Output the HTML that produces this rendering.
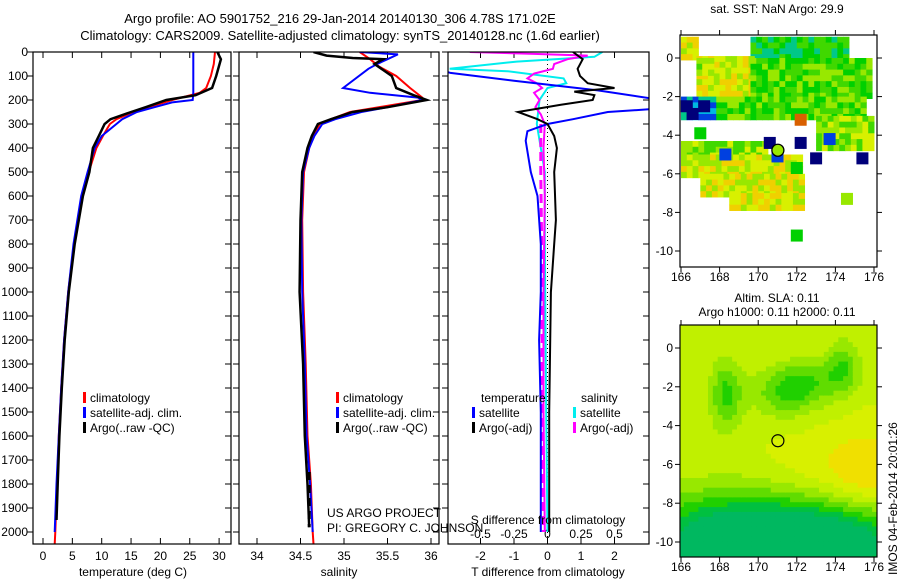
<!DOCTYPE html>
<html><head><meta charset="utf-8"><style>
body{margin:0;background:#fff;width:900px;height:580px;overflow:hidden}
svg{display:block;font-family:"Liberation Sans",sans-serif}
text{font-size:12px;fill:#000}
</style></head><body>
<svg id="c" width="900" height="580" viewBox="0 0 900 580">
<defs>
<clipPath id="cp1"><rect x="33" y="52" width="198" height="492"/></clipPath>
<clipPath id="cp2"><rect x="239" y="52" width="200" height="492"/></clipPath>
<clipPath id="cp3"><rect x="448" y="52" width="201" height="492"/></clipPath>
<clipPath id="cm1"><rect x="680" y="35" width="197" height="232"/></clipPath>
<clipPath id="cm2"><rect x="680" y="325" width="197" height="232"/></clipPath>
</defs>
<text x="340" y="23" text-anchor="middle" style="font-size:13px">Argo profile: AO 5901752_216 29-Jan-2014 20140130_306 4.78S 171.02E</text>
<text x="340" y="40" text-anchor="middle" style="font-size:13px">Climatology: CARS2009. Satellite-adjusted climatology: synTS_20140128.nc (1.6d earlier)</text>
<text x="777" y="13" text-anchor="middle">sat. SST: NaN Argo: 29.9</text>
<text x="777" y="302" text-anchor="middle">Altim. SLA: 0.11</text>
<text x="777" y="316" text-anchor="middle">Argo h1000: 0.11 h2000: 0.11</text>
<text transform="translate(897,575) rotate(-90)">IMOS 04-Feb-2014 20:01:26</text>
<g id="g"></g>
</svg>
<script>
// ---- data ----
const depthTicks=[0,100,200,300,400,500,600,700,800,900,1000,1100,1200,1300,1400,1500,1600,1700,1800,1900,2000];
const tempTicks=[0,5,10,15,20,25,30];
const salTicks=[34,34.5,35,35.5,36];
const tdTicks=[-2,-1,0,1,2];
const sdTicks=[-0.5,-0.25,0,0.25,0.5];
const lonTicks=[166,168,170,172,174,176];
const latTicks=[0,-2,-4,-6,-8,-10];

const tClimDepth=[0,50,100,150,170,200,230,250,280,300,350,400,500,600,800,1000,1200,1400,1600,1800,2000,2050];
const tClim=[29.3,29.1,28.6,27.8,26.7,22,18,15.4,12.5,11.4,10.2,9.1,7.8,6.7,5.3,4.3,3.6,3.1,2.7,2.4,2.1,2.0];
const tSatDepth=[0,100,170,200,210,230,250,280,300,350,400,500,600,800,1000,1200,1400,1600,1800,2000];
const tSat=[25.6,25.6,25.6,25.5,22,19,16,13.5,12.5,10,8.8,7.6,6.5,5.2,4.3,3.6,3.1,2.7,2.3,2.0];
const tArgoDepth=[0,30,100,150,180,200,230,250,280,300,350,400,500,600,800,1000,1200,1400,1600,1800,1950];
const tArgo=[29.7,30.3,29.5,28.8,26,21,17.5,15,11.5,10.5,9.5,8.5,7.9,6.8,5.4,4.4,3.7,3.2,2.8,2.5,2.3];

const sClimDepth=[0,30,60,100,150,190,200,230,250,280,300,350,400,500,700,1000,1300,1600,1800,2000,2050];
const sClim=[35.18,35.3,35.4,35.6,35.76,35.9,35.9,35.4,35.07,34.85,34.72,34.65,34.6,34.54,34.52,34.53,34.56,34.58,34.62,34.64,34.65];
const sSatDepth=[0,10,30,50,70,150,170,190,200,230,250,280,300,350,400,500,700,1000,1300,1600,1800,2000];
const sSat=[35.18,35.62,35.5,35.38,35.28,34.99,35.3,35.85,35.9,35.5,35.2,34.9,34.75,34.66,34.6,34.53,34.51,34.52,34.55,34.57,34.61,34.64];
const sArgoDepth=[0,15,25,30,50,100,150,180,200,230,250,280,300,350,400,500,700,1000,1300,1600,1800,1980];
const sArgo=[34.65,34.8,35.1,35.45,35.35,35.55,35.6,35.8,35.95,35.5,35.1,34.85,34.7,34.63,34.58,34.52,34.5,34.49,34.53,34.55,34.58,34.6];

const dTSatDepth=[60,87,120,160,196,237,250,280,300,330,370,500,600,800,1000,1200,1500,2000];
const dTSat=[-3.5,-2.9,-1,1.5,3.2,3.2,1.8,0.76,0,-0.6,-0.65,-0.5,-0.3,-0.2,-0.2,-0.25,-0.2,-0.2];
const dTArgoDepth=[0,30,70,100,130,150,165,180,200,220,250,280,300,350,400,500,700,800,1000,1500,2000];
const dTArgo=[0.76,1.05,0.9,0.97,1.2,2,0.8,1.4,1.35,0.4,-0.88,-0.3,0,0.2,0.28,0.2,0.25,0.2,0.1,0.05,0.05];
const dSSatDepth=[0,20,40,70,80,110,130,150,200,300,500,800,1500,2000];
const dSSat=[0.41,0.35,-0.23,-0.73,-0.3,0.12,0.14,0,-0.06,-0.08,-0.02,-0.02,-0.01,0];
const dSArgoDepth=[0,8,15,30,50,70,90,110,130,150,170,200,230,260,300,400,600,1000,1500,2000];
const dSArgo=[-0.58,-0.1,0.3,0.15,0.05,0.04,-0.1,-0.15,-0.08,-0.04,-0.1,-0.06,-0.09,-0.05,-0.02,-0.03,-0.02,-0.03,-0.03,-0.02];
const dSArgoDashDepth=[300,500,1000,1500,2000];
const dSArgoDash=[-0.05,-0.05,-0.04,-0.04,-0.03];

// ---- axes ----
const yD=d=>52+d*0.24;
const xT=t=>43+t*5.87;
const xS=s=>257+(s-34)*87;
const xTd=d=>547.5+d*33.5;
const xSd=s=>547.5+s*134;
const mx=lon=>681+(lon-166)*19.3;
const myTop=lat=>58-lat*19.3;
const myBot=lat=>348-lat*19.4;

const NS='http://www.w3.org/2000/svg';
const G=document.getElementById('g');
function mk(tag,at,par){const e=document.createElementNS(NS,tag);for(const k in at)e.setAttribute(k,at[k]);(par||G).appendChild(e);return e;}
function txt(x,y,s,anchor,par){const e=mk('text',{x:x,y:y,'text-anchor':anchor||'start'},par);e.textContent=s;return e;}
function line(xs,ds,fx,color,w,clip,name,dash){
  let p='';for(let i=0;i<xs.length;i++)p+=(i?'L':'M')+fx(xs[i]).toFixed(1)+','+yD(ds[i]).toFixed(1);
  const e=mk('path',{d:p,fill:'none',stroke:color,'stroke-width':w,'clip-path':'url(#'+clip+')'});
  if(dash)e.setAttribute('stroke-dasharray',dash);
  
  
}
function frame(x0,x1,y0,y1,name){
  const e=mk('rect',{x:x0,y:y0,width:x1-x0,height:y1-y0,fill:'none',stroke:'#000','stroke-width':1.2});
  
  
}
function depthAxis(x0,x1,labels){
  depthTicks.forEach(d=>{const y=yD(d);
    mk('line',{x1:x0-6,y1:y,x2:x0,y2:y,stroke:'#000'});
    mk('line',{x1:x1-6,y1:y,x2:x1,y2:y,stroke:'#000'});
    if(labels){const t=txt(28,y+4,String(d),'end');}
  });
}
function xAxis(ticks,fx,y0,y1){
  ticks.forEach(v=>{const x=fx(v);
    mk('line',{x1:x,y1:y1,x2:x,y2:y1-6,stroke:'#000'});
    mk('line',{x1:x,y1:y0,x2:x,y2:y0+6,stroke:'#000'});
    const t=txt(x,y1+16,String(v),'middle');
    
  });
}
function legendBar(x,y,color,label){
  const e=mk('rect',{x:x,y:y-10,width:3,height:11,fill:color});
  
  const t=txt(x+7,y,label);
}

// panel 1 temperature
depthAxis(33,231,true);
xAxis(tempTicks,xT,52,544);
line(tClim,tClimDepth,xT,'#f00',2,'cp1','temp-climatology-line');
line(tSat,tSatDepth,xT,'#00f',2,'cp1','temp-satellite-line');
line(tArgo,tArgoDepth,xT,'#000',2.5,'cp1','temp-argo-line');
frame(33,231,52,544,'temperature-panel');
let t=txt(133,576,'temperature (deg C)','middle');
legendBar(83,402,'#f00','climatology');
legendBar(83,417,'#00f','satellite-adj. clim.');
legendBar(83,432,'#000','Argo(..raw -QC)');

// panel 2 salinity
depthAxis(239,439,false);
xAxis(salTicks,xS,52,544);
line(sClim,sClimDepth,xS,'#f00',2,'cp2','sal-climatology-line');
line(sSat,sSatDepth,xS,'#00f',2,'cp2','sal-satellite-line');
line(sArgo,sArgoDepth,xS,'#000',2.5,'cp2','sal-argo-line');
line([34.6,34.6],[1750,1980],xS,'#000',3,'cp2','sal-argo-raw-dashed','8,5');
frame(239,439,52,544,'salinity-panel');
t=txt(339,576,'salinity','middle');
legendBar(336,402,'#f00','climatology');
legendBar(336,417,'#00f','satellite-adj. clim.');
legendBar(336,432,'#000','Argo(..raw -QC)');
t=txt(327,517,'US ARGO PROJECT');
t=txt(327,532,'PI: GREGORY C. JOHNSON');

// panel 3 differences
depthAxis(448,649,false);
mk('line',{x1:xTd(0),y1:52,x2:xTd(0),y2:544,stroke:'#000','stroke-dasharray':'1,3'});
tdTicks.forEach(v=>{const x=xTd(v);mk('line',{x1:x,y1:52,x2:x,y2:58,stroke:'#000'});mk('line',{x1:x,y1:544,x2:x,y2:538,stroke:'#000'});
  const e=txt(x,560,String(v),'middle');});
sdTicks.forEach(v=>{const e=txt(xSd(v),538,String(v),'middle');});
line(dSSat,dSSatDepth,xSd,'#0ee',2,'cp3','sdiff-satellite-line');
line(dSArgo,dSArgoDepth,xSd,'#f0f',2,'cp3','sdiff-argo-line');
line(dSArgoDash,dSArgoDashDepth,xSd,'#f0f',3,'cp3','sdiff-argo-dashed','9,5');
line(dTSat,dTSatDepth,xTd,'#00f',2,'cp3','tdiff-satellite-line');
line(dTArgo,dTArgoDepth,xTd,'#000',2,'cp3','tdiff-argo-line');
frame(448,649,52,544,'difference-panel');
t=txt(548,524,'S difference from climatology','middle');
t=txt(548,576,'T difference from climatology','middle');
t=txt(481,402,'temperature');
t=txt(581,402,'salinity');
legendBar(472,417,'#00f','satellite');
legendBar(472,432,'#000','Argo(-adj)');
legendBar(573,417,'#0ee','satellite');
legendBar(573,432,'#f0f','Argo(-adj)');

// ---- maps ----
const cmap=['#00007a','#0040e0','#00b8e0','#00c888','#00d000','#40d800','#98e800','#d8f000','#f0d000','#f0a000','#d86000'];
function hash(i,j){let h=(i*374761393+j*668265263)>>>0;h=(h^(h>>>13))*1274126177>>>0;return (h%1000)/1000;}
const sstRegions=[[166,1.1,166.8,0.1,7],[169.6,1.1,174.7,0,4],[166.8,0.1,169.6,-2,7],[169.6,0,175.7,-2,5],[166.8,0,167.5,-0.8,6],
[167.8,-2,175.5,-3.2,5],[166,-4.3,170.3,-5,6],[166,-5,172.2,-6,7],[167,-6,172.2,-7,7],[168.5,-7,172.2,-7.8,7],[173,-3,176,-4.6,6],[166,-2,167.6,-3,2]];
const sstSquares=[[166.3,-2.5,0],[167.2,-2.5,0],[166.6,-2.9,0],[170.6,-4.4,0],[172.2,-4.4,0],[173,-5.2,0],[175.4,-5.2,0],[168.3,-5,1],[171,-5.1,1],[172.2,-3.2,10],[167,-3.9,4],[172,-5.7,4],[172,-9.2,4],[174.6,-7.3,6],[173.7,-4.2,1]];
const g1=mk('g',{'clip-path':'url(#cm1)'});
const cs=0.3;
sstRegions.forEach((r,ri)=>{for(let lo=r[0];lo<r[2]-0.01;lo+=cs)for(let la=r[1];la>r[3]+0.01;la-=cs){
  const h=hash(Math.round(lo*10)+ri,Math.round(la*10));const idx=Math.max(0,Math.min(10,r[4]+Math.round((h-0.5)*3)));
  mk('rect',{x:mx(lo),y:myTop(la),width:cs*19.3+0.5,height:cs*19.3+0.5,fill:cmap[idx]},g1);}});
sstSquares.forEach(s=>{mk('rect',{x:mx(s[0])-6,y:myTop(s[1])-6,width:12,height:12,fill:cmap[s[2]]},g1);});
mk('circle',{cx:mx(171.02),cy:myTop(-4.78),r:6,fill:'#98e800',stroke:'#000','stroke-width':1.3},g1);
const slaBlobs=[[168.2,-2.3,0.6,1.3,-0.4],[171.3,-2.2,1.2,0.9,-0.35],[172.8,-1.5,1.3,0.8,-0.25],[174.3,-0.8,0.6,1.0,-0.3],[168.5,-10,3.5,1.8,-0.85],[174,-10,3.2,1.5,-0.7],[175.5,-6.3,1.2,1.5,0.2],[173.5,-6.3,2.2,1.4,0.12]];
const g2=mk('g',{'clip-path':'url(#cm2)'});
const slaColors=['#00b860','#00c040','#20d000','#60dc00','#98e800','#c0f000','#d8f000','#f0e000'];
const cs2=0.25;
for(let lo=165.9;lo<176.2;lo+=cs2)for(let la=1.3;la>-11;la-=cs2){
  let v=0.68;slaBlobs.forEach(b=>{v+=b[4]*Math.exp(-(((lo-b[0])/b[2])**2+((la-b[1])/b[3])**2)/2);});
  const idx=Math.max(0,Math.min(7,Math.round(v*8)));
  mk('rect',{x:mx(lo),y:myBot(la),width:cs2*19.3+0.5,height:cs2*19.4+0.5,fill:slaColors[idx]},g2);}
mk('circle',{cx:mx(171.02),cy:myBot(-4.78),r:6,fill:'none',stroke:'#000','stroke-width':1.2},g2);
[[35,267,myTop,'sst-map-frame'],[325,557,myBot,'sla-map-frame']].forEach(m=>{
  frame(680,877,m[0],m[1],m[3]);
  lonTicks.forEach(l=>{const x=mx(l);mk('line',{x1:x,y1:m[0],x2:x,y2:m[0]-5,stroke:'#000'});mk('line',{x1:x,y1:m[1],x2:x,y2:m[1]+5,stroke:'#000'});
    const e=txt(x,m[1]+14,String(l),'middle');});
  latTicks.forEach(l=>{const y=m[2](l);mk('line',{x1:680,y1:y,x2:675,y2:y,stroke:'#000'});mk('line',{x1:877,y1:y,x2:882,y2:y,stroke:'#000'});
    const e=txt(673,y+4,String(l),'end');});
});
</script>
</body></html>
